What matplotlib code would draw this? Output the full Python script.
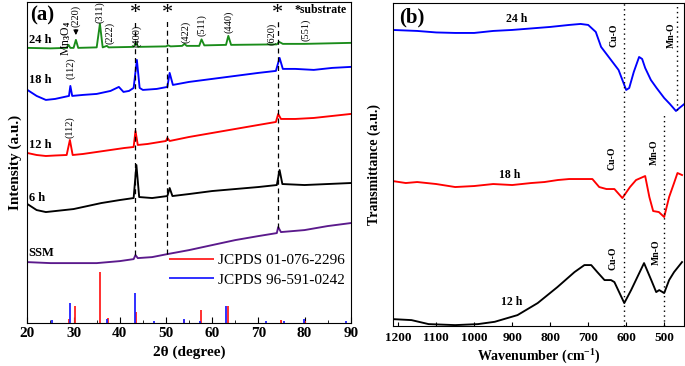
import numpy as np
import matplotlib
matplotlib.use('Agg')
import matplotlib.pyplot as plt
from matplotlib.ticker import MultipleLocator

plt.rcParams['font.family'] = ['Liberation Serif', 'DejaVu Serif']
plt.rcParams['mathtext.fontset'] = 'custom'
plt.rcParams['mathtext.rm'] = 'Liberation Serif:bold'
plt.rcParams['mathtext.it'] = 'Liberation Serif:italic:bold'
plt.rcParams['mathtext.bf'] = 'Liberation Serif:bold'

# ---------------- XRD data (2theta, intensity a.u.) ----------------
tt_24 = [20, 25, 28.5, 28.9, 29.3, 30.0, 30.5, 31.0, 35.0, 35.7, 36.3, 37.2, 37.6, 43.0, 43.5, 44.0,
         50.0, 50.5, 51.0, 53.5, 54.0, 54.5, 57.2, 57.7, 58.3, 63.0, 63.5, 64.1, 74.0, 74.5, 75.3, 80, 90]
int_24 = [275, 274.5, 275, 278, 275, 275, 283, 275, 275.5, 299, 275.5, 277, 275.5, 276, 280, 276,
          276.5, 277.5, 276.5, 277, 279, 277, 277, 283.5, 277.5, 278, 287, 278, 278.5, 281, 279, 279, 280]

tt_18 = [20, 22, 24, 26, 28, 29.0, 29.3, 29.7, 32, 35, 38, 39.8, 40.8, 42, 43.0, 43.7, 44.3, 45, 48,
         50.3, 50.8, 51.5, 55, 60, 65, 70, 73.8, 74.6, 75.3, 78, 82, 86, 90]
int_18 = [233, 227, 223, 224, 226, 227, 237, 227, 228, 229, 232, 236, 231, 232, 235, 263, 235, 233, 234,
          236, 250, 238, 241, 244, 247, 250, 252, 265, 254, 254, 253, 255, 256]

tt_12 = [20, 22, 24, 26, 28.5, 29.2, 29.8, 32, 35, 38, 41, 43.0, 43.4, 43.9, 46, 50.0, 50.3, 50.8,
         55, 60, 65, 70, 73.8, 74.3, 74.9, 78, 82, 86, 90]
int_12 = [170, 168, 167, 167.5, 168, 183, 168, 169, 171, 173, 175, 176, 192, 178, 179, 182, 185, 182,
          186, 190, 194, 198, 201, 209, 204, 204, 205, 207, 209]

tt_6 = [20, 22, 24, 26, 30, 33, 36, 40, 43.0, 43.6, 44.2, 47, 50.3, 50.8, 51.4, 55, 60, 65, 70,
        74.0, 74.6, 75.2, 80, 85, 90]
int_6 = [119, 113, 111, 112, 114, 117, 120, 123, 125, 158, 126, 125, 127, 135, 127, 129, 132, 134, 136,
         138, 153, 139, 138, 139, 140]

tt_ssm = [20, 25, 30, 35, 40, 43.0, 43.4, 43.9, 47, 50.3, 55, 60, 65, 70, 74.0, 74.3, 74.9, 80, 85, 90]
int_ssm = [61, 60, 60, 60, 62, 64, 68, 65, 66, 69, 73, 78, 83, 87, 90, 96, 91, 93, 97, 100]

# reference patterns
ref1_pos = [28.9, 30.3, 35.7, 37.4, 43.6, 54.0, 57.6, 63.5, 74.9, 80.0]
ref1_int = [4, 17, 51, 5, 11, 3, 13, 17, 3, 2]
ref2_pos = [25.3, 29.2, 37.2, 43.4, 47.4, 53.8, 57.3, 63.1, 71.6, 75.6, 79.8, 89.0]
ref2_int = [3, 20, 4, 30, 2, 4, 2, 17, 2, 2, 4, 2]

star_pos = [43.4, 50.3, 74.2]
star_bottom = [68, 69, 95]

# (label, 2theta, y) for 24 h planes
plane_labels = ['(220)', '(311)', '(222)', '(400)', '(422)', '(511)', '(440)', '(620)', '(551)']
plane_x = [30.5, 35.7, 37.9, 43.7, 54.3, 57.8, 63.6, 72.9, 80.2]
plane_y = [307, 311, 290, 287, 291, 298, 301, 289, 293]

# ---------------- FTIR data (wavenumber, transmittance a.u.) ----------------
wn_24 = [1215, 1150, 1100, 1050, 1000, 950, 900, 850, 800, 750, 720, 700, 680, 666, 640, 620, 605, 600,
         592, 580, 566, 558, 550, 535, 520, 500, 485, 469, 460, 447]
tr_24 = [296, 295, 293.5, 293, 293, 295, 296, 297.5, 299, 301, 302, 301, 294, 279, 266, 256, 241, 236,
         238, 254, 269, 267, 258, 246, 238, 228, 222, 215, 218, 222]

wn_18 = [1215, 1180, 1150, 1100, 1050, 1000, 950, 900, 850, 815, 780, 750, 700, 689, 671, 652, 631, 610,
         590, 574, 550, 539, 529, 514, 500, 487, 474, 465, 453]
tr_18 = [145, 143, 144, 142, 139, 140, 142, 141, 143, 144, 146, 147, 147, 147, 139, 137, 137, 128,
         139, 146, 150, 129, 115, 114, 109, 129, 143, 153, 151]

wn_12 = [1215, 1165, 1120, 1050, 990, 946, 886, 833, 781, 736, 710, 692, 676, 657, 640, 631, 605, 587,
         553, 534, 521, 513, 500, 487, 474, 453]
tr_12 = [7, 6, 2, 1, 2, 4.3, 11, 23, 39, 54, 61, 61, 54, 46, 46, 44, 23, 36,
         63, 46, 34, 36, 33, 46, 54, 64]

fig = plt.figure(figsize=(6.85, 3.66), dpi=100)
ax1 = fig.add_axes([0.040, 0.117, 0.472, 0.878])
ax2 = fig.add_axes([0.573, 0.109, 0.426, 0.883])

# ---- panel (a)
lw = 1.35
ax1.plot(tt_24, int_24, color='#1a8c1a', lw=lw)
ax1.plot(tt_18, int_18, color='#0000ff', lw=lw)
ax1.plot(tt_12, int_12, color='#ff0000', lw=lw)
ax1.plot(tt_6, int_6, color='black', lw=lw)
ax1.plot(tt_ssm, int_ssm, color='#5b1a8c', lw=lw)

ax1.vlines(ref1_pos, 0, ref1_int, color='#ff2020', lw=1.3, label='JCPDS 01-076-2296')
ax1.vlines(ref2_pos, 0, ref2_int, color='#2020ff', lw=1.3, label='JCPDS 96-591-0242')

ax1.vlines(star_pos, star_bottom, 302, colors='black', linestyles=(0, (4, 3)), lw=0.9)
for p in star_pos:
    ax1.text(p, 309, '*', fontsize=16, ha='center', va='center')

ax1.text(20.6, 307, '(a)', fontsize=15, fontweight='bold', va='center')
ax1.text(77.8, 313, '*substrate', fontsize=8.5, fontweight='bold', va='center')
for lab, y in zip(['24 h', '18 h', '12 h', '6 h', 'SSM'], [283, 243, 178, 125, 70]):
    ax1.text(20.3, y, lab, fontsize=9, fontweight='bold', va='center')

for lab, x, y in zip(plane_labels, plane_x, plane_y):
    ax1.text(x, y, lab, fontsize=7.5, rotation=90, ha='center', va='center')
ax1.text(28.3, 285, r'Mn$_3$O$_4$', fontsize=8.5, rotation=90, ha='center', va='center')
ax1.annotate('', xy=(30.5, 285), xytext=(30.5, 296),
             arrowprops=dict(arrowstyle='-|>', color='black', lw=0.8, mutation_scale=7))
ax1.text(29.4, 255, '(112)', fontsize=7.5, rotation=90, ha='center', va='center')
ax1.text(29.2, 196, '(112)', fontsize=7.5, rotation=90, ha='center', va='center')

ax1.set_xlim(20, 90)
ax1.set_ylim(0, 321)
ax1.set_yticks([])
ax1.xaxis.set_major_locator(MultipleLocator(10))
ax1.xaxis.set_minor_locator(MultipleLocator(5))
ax1.tick_params(axis='x', which='both', direction='in', labelsize=11, pad=3)
ax1.tick_params(axis='x', which='major', length=4)
ax1.tick_params(axis='x', which='minor', length=2.5)
for t in ax1.get_xticklabels():
    t.set_fontweight('bold')
ax1.set_xlabel('2θ (degree)', fontsize=11, fontweight='bold', labelpad=4)
ax1.set_ylabel('Intensity (a.u.)', fontsize=11, fontweight='bold', labelpad=4)
ax1.legend(loc='upper left', bbox_to_anchor=(0.42, 0.235), frameon=False, fontsize=11,
           handlelength=2.9, handletextpad=0.3, labelspacing=0.35, borderaxespad=0)

# ---- panel (b)
ax2.plot(wn_24, tr_24, color='#0000ff', lw=lw)
ax2.plot(wn_18, tr_18, color='#ff0000', lw=lw)
ax2.plot(wn_12, tr_12, color='black', lw=lw)

ax2.vlines(605, 0, 323, colors='black', linestyles=(0, (1, 2.5)), lw=1.0)
ax2.vlines(465, 216, 323, colors='black', linestyles=(0, (1, 2.5)), lw=1.0)
ax2.vlines(500, 0, 211, colors='black', linestyles=(0, (1, 2.5)), lw=1.0)

ax2.text(1197, 308, '(b)', fontsize=15, fontweight='bold', va='center')
ax2.text(888, 307, '24 h', fontsize=8.5, fontweight='bold', ha='center', va='center')
ax2.text(907, 151, '18 h', fontsize=8.5, fontweight='bold', ha='center', va='center')
ax2.text(902, 24, '12 h', fontsize=8.5, fontweight='bold', ha='center', va='center')
for lab, x, y in [('Cu-O', 631, 291), ('Mn-O', 482, 291), ('Cu-O', 637, 168),
                  ('Mn-O', 527, 174), ('Cu-O', 634, 68), ('Mn-O', 521, 74)]:
    ax2.text(x, y, lab, fontsize=7, fontweight='bold', rotation=90, ha='center', va='center')

ax2.set_xlim(1215, 447)
ax2.set_ylim(0, 323)
ax2.set_yticks([])
ax2.set_xticks([1200, 1100, 1000, 900, 800, 700, 600, 500])
ax2.tick_params(axis='x', direction='in', length=3, labelsize=9.5, pad=4)
for t in ax2.get_xticklabels():
    t.set_fontweight('bold')
ax2.set_xlabel('Wavenumber (cm$^{-1}$)', fontsize=10, fontweight='bold', labelpad=3)
ax2.set_ylabel('Transmittance (a.u.)', fontsize=10, fontweight='bold', labelpad=8)

fig.savefig('out.png', dpi=100)
